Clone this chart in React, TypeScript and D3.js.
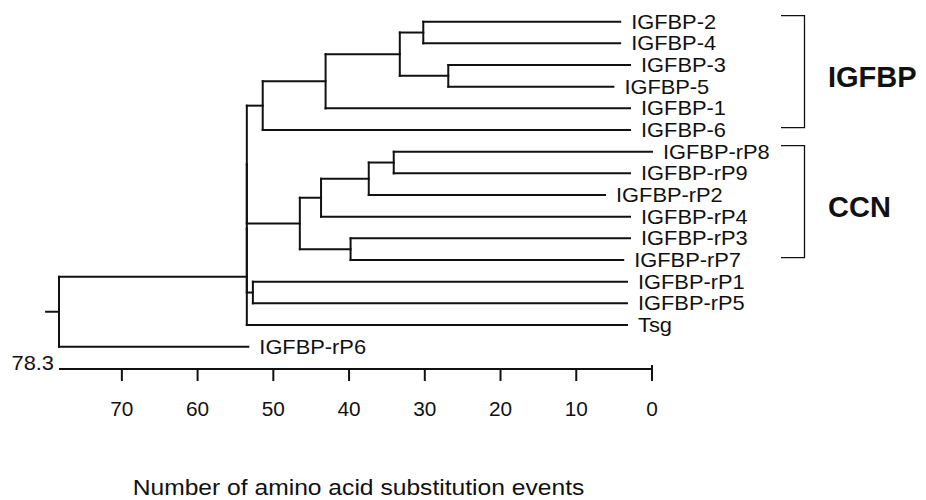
import React from "react";
import * as d3 from "d3";

// leaves, top to bottom
const leafNames = [
  "IGFBP-2",
  "IGFBP-4",
  "IGFBP-3",
  "IGFBP-5",
  "IGFBP-1",
  "IGFBP-6",
  "IGFBP-rP8",
  "IGFBP-rP9",
  "IGFBP-rP2",
  "IGFBP-rP4",
  "IGFBP-rP3",
  "IGFBP-rP7",
  "IGFBP-rP1",
  "IGFBP-rP5",
  "Tsg",
  "IGFBP-rP6",
];
// where each branch ends on the substitution scale
const leafTips = [4.2, 4.2, 2.9, 5.1, 2.9, 2.9, 0, 2.9, 6.2, 2.9, 2.9, 3.8, 3.3, 3.3, 3.3, 53.3];

// [node, child a, child b, height]
const joins: [string, string, string, number][] = [
  ["n24", "IGFBP-2", "IGFBP-4", 30.2],
  ["n35", "IGFBP-3", "IGFBP-5", 26.9],
  ["n2435", "n24", "n35", 33.3],
  ["n1", "n2435", "IGFBP-1", 43.1],
  ["nIGFBP", "n1", "IGFBP-6", 51.4],
  ["n89", "IGFBP-rP8", "IGFBP-rP9", 34.1],
  ["n892", "n89", "IGFBP-rP2", 37.4],
  ["n8924", "n892", "IGFBP-rP4", 43.7],
  ["n37", "IGFBP-rP3", "IGFBP-rP7", 39.8],
  ["nCCN", "n8924", "n37", 46.5],
  ["n15", "IGFBP-rP1", "IGFBP-rP5", 52.7],
  ["a", "nIGFBP", "nCCN", 53.5],
  ["b", "a", "n15", 53.5],
  ["c", "b", "Tsg", 53.5],
  ["root", "c", "IGFBP-rP6", 78.3],
];

const axisTicks = [70, 60, 50, 40, 30, 20, 10, 0];
const axisMax = 78.3;
const axisTitle = "Number of amino acid substitution events";

const groups = [
  { name: "IGFBP", first: "IGFBP-2", last: "IGFBP-6" },
  { name: "CCN", first: "IGFBP-rP8", last: "IGFBP-rP7" },
];

type TNode = { name: string; height: number; children?: TNode[] };

function buildTree(): TNode {
  const nodes = new Map<string, TNode>();
  leafNames.forEach((n, i) => nodes.set(n, { name: n, height: leafTips[i] }));
  joins.forEach(([n, a, b, h]) => {
    nodes.set(n, { name: n, height: h, children: [nodes.get(a)!, nodes.get(b)!] });
  });
  return nodes.get("root")!;
}

const width = 926;
const height = 500;
const font = "'Liberation Sans', Arial, Helvetica, sans-serif";
const ink = "#111";

// the scanned lettering is a bit wider than Arial, stretch it a little
const Label = ({ x, y, size, anchor = "start", sx = 1.04, weight = "normal", children }: any) => (
  <text
    transform={`translate(${x},${y}) scale(${sx},1)`}
    fontSize={size}
    fontWeight={weight}
    textAnchor={anchor}
    fill={ink}
  >
    {children}
  </text>
);

export default function App() {
  const x = d3.scaleLinear().domain([axisMax, 0]).range([59, 652]);
  const y = d3.scalePoint<string>().domain(leafNames).range([21.7, 346.7]);

  const root = d3.hierarchy(buildTree());
  const ypos = new Map<any, number>();
  root.eachAfter((d) => {
    if (!d.children) ypos.set(d, y(d.data.name)!);
    else ypos.set(d, d3.mean(d.children, (c) => ypos.get(c)!)!);
  });

  const axisY = 369;

  const branches: any[] = [];
  root.each((d) => {
    const yy = ypos.get(d)!;
    if (d.parent) {
      branches.push(
        <line key={"h" + d.data.name} x1={x(d.parent.data.height)} x2={x(d.data.height)} y1={yy} y2={yy} />
      );
    }
    if (d.children) {
      const ys = d.children.map((c) => ypos.get(c)!);
      branches.push(
        <line
          key={"v" + d.data.name}
          x1={x(d.data.height)}
          x2={x(d.data.height)}
          y1={d3.min(ys)!}
          y2={d3.max(ys)!}
        />
      );
    }
  });
  const rootY = ypos.get(root)!;

  return (
    <svg
      width={width}
      height={height}
      style={{ position: "absolute", left: 0, top: 0, background: "#fff" }}
      fontFamily={font}
    >
      <g stroke={ink} strokeWidth={2} strokeLinecap="square">
        {branches}
        <line x1={x(axisMax + 1.7)} x2={x(axisMax)} y1={rootY} y2={rootY} />
      </g>

      {root.leaves().map((d) => (
        <Label key={d.data.name} x={x(d.data.height) + 11} y={ypos.get(d)! + 7} size={21}>
          {d.data.name}
        </Label>
      ))}

      {groups.map((g) => {
        const y0 = y(g.first)! - 6;
        const y1 = y(g.last)! - 2.5;
        return (
          <g key={g.name}>
            <path d={`M781,${y0}H804.5V${y1}H781`} fill="none" stroke={ink} strokeWidth={1.3} />
            <Label x={828} y={(y0 + y1) / 2 + 15} size={29} sx={1} weight="bold">
              {g.name}
            </Label>
          </g>
        );
      })}

      <g stroke={ink} strokeWidth={2}>
        <line x1={x(axisMax)} x2={x(0)} y1={axisY} y2={axisY} />
        {axisTicks.map((t) => (
          <line key={t} x1={x(t)} x2={x(t)} y1={t === 0 ? axisY - 4 : axisY} y2={axisY + 12} />
        ))}
      </g>
      {axisTicks.map((t) => (
        <Label key={t} x={x(t)} y={416} size={20} anchor="middle">
          {t}
        </Label>
      ))}
      <Label x={x(axisMax) - 5} y={axisY + 1} size={21} anchor="end">
        {axisMax}
      </Label>
      <Label x={(x(axisMax) + x(0)) / 2 + 3} y={495} size={22} sx={1.12} anchor="middle">
        {axisTitle}
      </Label>
    </svg>
  );
}
